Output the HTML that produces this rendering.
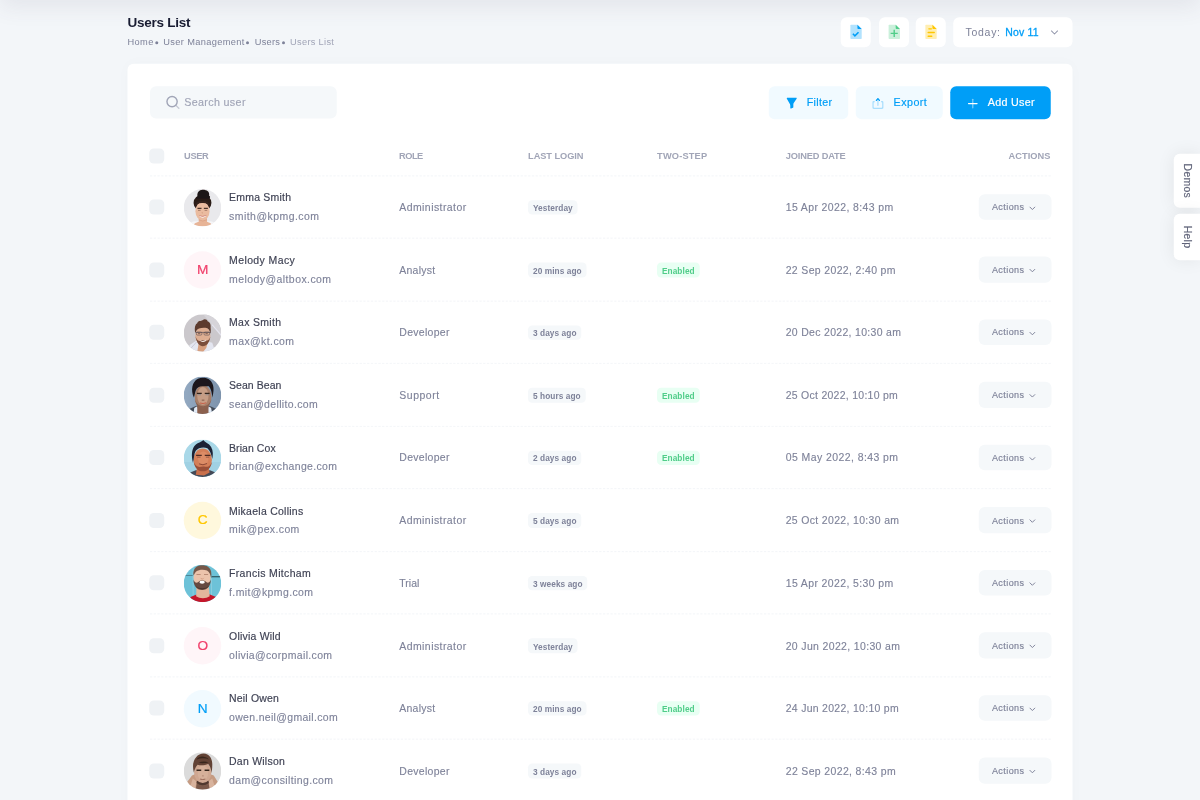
<!DOCTYPE html>
<html lang="en">
<head>
<meta charset="utf-8">
<title>Users List</title>
<style>
*{box-sizing:border-box;margin:0;padding:0}
html,body{width:1200px;height:800px;overflow:hidden;background:#f3f6f9}
body{font-family:"Liberation Sans",sans-serif;color:#181c32}
#z{transform:scale(.75);transform-origin:0 0;position:relative;width:1600px;height:1067px;overflow:hidden;background:#f3f6f9;font-size:13px}
.hshadow{position:absolute;left:0;top:-60px;width:1600px;height:60px;background:#fff;box-shadow:0 10px 30px 0 rgba(82,63,105,.09)}
/* toolbar */
.title{position:absolute;left:170px;top:20.4px;font-size:18px;line-height:21px;font-weight:700;color:#181c32;letter-spacing:-.33px;white-space:nowrap}
.bc{position:absolute;left:170px;top:46.7px;font-size:12.35px;line-height:18.5px;color:#7e8299;white-space:nowrap}
.bc span{position:absolute;top:0}
.bc span.m{color:#a1a5b7}
.bc i{position:absolute;top:8.1px;width:4px;height:4px;margin-left:-.2px;border-radius:50%;background:#7e8299}
.tbtn{position:absolute;top:22.7px;width:40px;height:40px;border-radius:8px;background:#fff}
.tbtn svg{position:absolute;left:9.2px;top:7.9px;width:22.75px;height:22.75px}
.date{position:absolute;left:1271.3px;top:22.7px;width:158.7px;height:40px;border-radius:8px;background:#fff;font-size:13.975px;line-height:40.8px;color:#7e8299;white-space:nowrap}
.date b{font-weight:400;color:#009ef7}
/* card */
.card{position:absolute;left:169.5px;top:85.33px;width:1260.9px;height:1100px;background:#fff;border-radius:8.125px;box-shadow:0 0 20px 0 rgba(76,87,125,.02)}
.search{position:absolute;left:30.5px;top:29.3px;width:249.3px;height:43.6px;border-radius:8px;background:#f5f8fa;font-size:14.3px;line-height:43.6px;color:#a1a5b7;padding-left:45.5px;letter-spacing:.47px;-webkit-text-stroke:.2px #a1a5b7}
.search svg{position:absolute;left:18.5px;top:10.4px;width:22.75px;height:22.75px}
.btn{position:absolute;top:29.77px;height:43.6px;border-radius:8px;font-size:14.3px;line-height:43.6px;white-space:nowrap;-webkit-text-stroke:.25px}
.btn.lp{background:#f1faff;color:#009ef7}
.btn.p{background:#009ef7;color:#fff}
.btn svg{position:absolute;top:13px;width:19.5px;height:19.5px}
.btn span{position:absolute;top:0}
/* table */
.tbl{position:absolute;left:30.6px;top:95.27px;width:1201.3px}
.tr{position:relative;height:83.5px;border-bottom:1px dashed #eff2f5}
.tr.h{height:54.4px;font-size:12.35px;font-weight:700;color:#a1a5b7;text-transform:uppercase}
.tr.h span{position:absolute;top:18.8px;line-height:18.5px;white-space:nowrap;letter-spacing:-.1px}
.cb{position:absolute;left:-.9px;width:20.15px;height:20.15px;border-radius:6px;background:#eff2f5}
.tr.h .cb{top:17.3px}
.tr .cb{top:31.2px}
.av{position:absolute;left:45.3px;top:16.6px;width:50px;height:50px;border-radius:50%;overflow:hidden}
.av svg{display:block;width:50px;height:50px}
.av.l{font-size:18.2px;line-height:48.6px;text-align:center;-webkit-text-stroke:.3px}
.av.d{background:#fff5f8;color:#f1416c}
.av.w{background:#fff8dd;color:#ffc700}
.av.pr{background:#f1faff;color:#009ef7}
.nm{position:absolute;left:105.3px;top:18.5px;font-size:13.975px;line-height:21px;color:#3f4254;white-space:nowrap;letter-spacing:.27px;-webkit-text-stroke:.22px #3f4254}
.em{position:absolute;left:105.3px;top:43.1px;font-size:13.975px;line-height:21px;color:#7e8299;white-space:nowrap;letter-spacing:.57px;-webkit-text-stroke:.16px #7e8299}
.ro{position:absolute;left:332.3px;top:31.2px;font-size:13.975px;line-height:21px;color:#7e8299;white-space:nowrap;letter-spacing:.65px;-webkit-text-stroke:.16px #7e8299}
.jd{position:absolute;left:847.5px;top:31.2px;font-size:13.975px;line-height:21px;color:#7e8299;white-space:nowrap;letter-spacing:.52px;-webkit-text-stroke:.16px #7e8299}
.bd{position:absolute;top:32px;height:19.3px;border-radius:5.5px;font-size:11.05px;font-weight:700;line-height:19.3px;padding:1.2px 6.5px 0;white-space:nowrap;letter-spacing:.1px}
.bd.ll{left:504px;background:#f5f8fa;color:#7e8299}
.bd.en{left:676px;background:#e8fff3;color:#50cd89}
.ac{position:absolute;left:1104.85px;top:23.95px;width:96.9px;height:34.3px;border-radius:8px;background:#f5f8fa;color:#7e8299;font-size:12.025px;line-height:34.3px;padding:.3px 0 0 17.6px;white-space:nowrap;letter-spacing:.58px;-webkit-text-stroke:.2px #7e8299;overflow:hidden}
.ac svg{position:absolute;left:64.6px;top:12px;width:13px;height:13px}
/* side */
.side{position:absolute;left:1565.3px;width:34.7px;background:#fff;border-radius:8px 0 0 8px;box-shadow:0 0 24px rgba(0,0,0,.075)}
.side span{position:absolute;left:50%;top:50%;transform:translate(-50%,-50%) rotate(90deg);font-size:13.975px;color:#5e6278;white-space:nowrap;letter-spacing:.3px;-webkit-text-stroke:.2px #5e6278}
</style>
</head>
<body>
<div id="z">
<svg width="0" height="0" style="position:absolute"><defs><filter id="bl" x="-10%" y="-10%" width="120%" height="120%"><feGaussianBlur stdDeviation=".55"/></filter></defs></svg>
<div class="hshadow"></div>

<div class="title">Users List</div>
<div class="bc"><span style="left:0;letter-spacing:.5px">Home</span><i style="left:36.7px"></i><span style="left:47.8px;letter-spacing:.45px">User Management</span><i style="left:158.5px"></i><span style="left:169.7px;letter-spacing:.35px">Users</span><i style="left:206px"></i><span class="m" style="left:216.8px;letter-spacing:.39px">Users List</span></div>

<div class="tbtn" style="left:1121px"><svg viewBox="0 0 24 24"><path opacity=".3" d="M19 22H5C4.4 22 4 21.6 4 21V3C4 2.4 4.4 2 5 2H14L20 8V21C20 21.6 19.6 22 19 22Z" fill="#009ef7"/><path d="M15 8H20L14 2V7C14 7.6 14.4 8 15 8Z" fill="#009ef7"/><path d="M10.400 19.200L6.800 15.600 8.400 14 10.400 16 14.700 11.900 16.300 13.500Z" fill="#009ef7"/></svg></div>
<div class="tbtn" style="left:1171.5px"><svg viewBox="0 0 24 24"><path opacity=".3" d="M19 22H5C4.4 22 4 21.6 4 21V3C4 2.4 4.4 2 5 2H14L20 8V21C20 21.6 19.6 22 19 22Z" fill="#50cd89"/><path d="M15 8H20L14 2V7C14 7.6 14.4 8 15 8Z" fill="#50cd89"/><path d="M10.900 9.200h2v4h4v2h-4v4h-2v-4h-4v-2h4Z" fill="#50cd89"/></svg></div>
<div class="tbtn" style="left:1221.2px"><svg viewBox="0 0 24 24"><path opacity=".3" d="M19 22H5C4.4 22 4 21.6 4 21V3C4 2.4 4.4 2 5 2H14L20 8V21C20 21.6 19.6 22 19 22Z" fill="#ffc700"/><path d="M15 8H20L14 2V7C14 7.6 14.4 8 15 8Z" fill="#ffc700"/><rect x="8" y="6.900" width="5.400" height="2" rx="1" fill="#ffc700"/><rect x="7" y="12" width="10.500" height="2" rx="1" fill="#ffc700"/><rect x="7" y="17.200" width="7" height="2" rx="1" fill="#ffc700"/></svg></div>
<div class="date"><span style="position:absolute;left:16px;letter-spacing:.98px">Today:</span><b style="position:absolute;left:69px;letter-spacing:.25px;-webkit-text-stroke:.4px #009ef7">Nov 11</b><svg style="position:absolute;left:127.3px;top:13px;width:14px;height:14px" viewBox="0 0 24 24"><path d="M5 9l7 7 7-7" fill="none" stroke="#9296ab" stroke-width="2.3" stroke-linecap="round" stroke-linejoin="round"/></svg></div>

<div class="card">
  <div class="search"><svg viewBox="0 0 24 24"><circle cx="11" cy="11" r="7.200" fill="none" stroke="#a1a5b7" stroke-width="2"/><path d="M16.500 16.500L20.500 20.500" stroke="#a1a5b7" stroke-width="1.900" stroke-linecap="round" opacity=".55"/></svg>Search user</div>

  <div class="btn lp" style="left:855.8px;width:105.3px"><svg style="left:20.5px" viewBox="0 0 24 24"><path d="M19.0759 3H4.72777C3.95892 3 3.47768 3.83148 3.86067 4.49814L8.56967 12.6949C9.17923 13.7559 9.5 14.9582 9.5 16.1819V19.5072C9.5 20.2189 10.2223 20.7028 10.8805 20.432L13.8805 19.1977C14.2553 19.0435 14.5 18.6783 14.5 18.273V13.8372C14.5 12.8089 14.8171 11.8056 15.408 10.964L19.8943 4.57465C20.3596 3.912 19.8856 3 19.0759 3Z" fill="#009ef7"/></svg><span style="left:50.4px;letter-spacing:.4px">Filter</span></div>
  <div class="btn lp" style="left:971.1px;width:116px"><svg style="left:20.5px" viewBox="0 0 24 24"><rect opacity=".3" x="10.75" y="4.25" width="2" height="12" rx="1" fill="#009ef7"/><path d="M12.0573 6.11875L13.5203 7.87435C13.9121 8.34457 14.6232 8.37683 15.056 7.94401C15.4457 7.5543 15.4641 6.92836 15.0979 6.51643L12.4974 3.59084C12.0996 3.14332 11.4004 3.14332 11.0026 3.59084L8.40206 6.51643C8.0359 6.92836 8.0543 7.5543 8.44401 7.94401C8.87683 8.37683 9.58785 8.34458 9.9797 7.87435L11.4427 6.11875C11.6026 5.92684 11.8974 5.92684 12.0573 6.11875Z" fill="#009ef7"/><path opacity=".3" d="M18.75 8.25H17.75C17.1977 8.25 16.75 8.69772 16.75 9.25C16.75 9.80228 17.1977 10.25 17.75 10.25C18.3023 10.25 18.75 10.6977 18.75 11.25V18.25C18.75 18.8023 18.3023 19.25 17.75 19.25H5.75C5.19772 19.25 4.75 18.8023 4.75 18.25V11.25C4.75 10.6977 5.19771 10.25 5.75 10.25C6.30229 10.25 6.75 9.80228 6.75 9.25C6.75 8.69772 6.30229 8.25 5.75 8.25H4.75C3.64543 8.25 2.75 9.14543 2.75 10.25V19.25C2.75 20.3546 3.64543 21.25 4.75 21.25H18.75C19.8546 21.25 20.75 20.3546 20.75 19.25V10.25C20.75 9.14543 19.8546 8.25 18.75 8.25Z" fill="#009ef7"/></svg><span style="left:50.9px;letter-spacing:.6px">Export</span></div>
  <div class="btn p" style="left:1097.2px;width:134.7px"><svg style="left:20.5px" viewBox="0 0 24 24"><rect opacity=".5" x="11.364" y="4.364" width="2" height="16" rx="1" fill="#fff"/><rect x="4.364" y="11.364" width="16" height="2" rx="1" fill="#fff"/></svg><span style="left:50.3px;letter-spacing:.4px">Add User</span></div>

  <div class="tbl">
    <div class="tr h"><div class="cb"></div><span style="left:45.4px;letter-spacing:-.54px">User</span><span style="left:332px;letter-spacing:-.7px">Role</span><span style="left:504px">Last login</span><span style="left:676px;letter-spacing:.23px">Two-step</span><span style="left:847.7px;letter-spacing:-.23px">Joined Date</span><span style="right:.7px;letter-spacing:.06px">Actions</span></div>
    <div class="tr"><div class="cb"></div><div class="av"><svg viewBox="0 0 50 50"><rect width="50" height="50" fill="#e9e9ec"/>
<g filter="url(#bl)">
<path d="M0 50L5 46 14 43 36 43 45 46 50 50Z" fill="#f6f6f8"/>
<ellipse cx="25" cy="18.500" rx="11.900" ry="11" fill="#2a1c19"/>
<path d="M18.500 10.500C17 5 20.500 1.200 25 1 30.500 .8 35 3.500 33.800 9 36.500 10 34.500 13.500 33 13L18.500 13C16 13.500 15.500 11 18.500 10.500Z" fill="#1f1514"/>
<path d="M12 50C12.500 46 17 44.500 20 43.500L20 37 31 37 31 43.500C34 44.500 38 46 38.500 50Z" fill="#e7b497"/>
<ellipse cx="25" cy="29.500" rx="9.400" ry="12.600" fill="#eabb9f"/>
<path d="M15.300 25C15 18 19 15.500 25 15.800 31 15.500 35 18 34.800 25.500 33.500 21 30.500 18.500 25 18.800 19.500 18.500 16.500 21 15.300 25Z" fill="#35231f"/>
<path d="M18.300 25.800h5.400M26.800 25.800h5.400" stroke="#4e342c" stroke-width="1.500"/>
<path d="M19 28.500h3.500M27.800 28.500h3.500" stroke="#7a5547" stroke-width=".8"/>
<path d="M24 31.500L25.500 32" stroke="#c78f76" stroke-width="1"/>
<path d="M21 36.300Q25.200 39.300 29.500 36" stroke="#fff" stroke-width="1.300" fill="none"/>
<path d="M20.500 35.600Q25.200 37.600 30 35.300" stroke="#c2665f" stroke-width=".8" fill="none"/>
<path d="M20 41Q25 44.500 31 41" stroke="#d9a084" stroke-width="1" fill="none"/>
</g></svg></div><div class="nm" style="letter-spacing:0.29px">Emma Smith</div><div class="em" style="letter-spacing:0.62px">smith@kpmg.com</div><div class="ro" style="letter-spacing:0.57px">Administrator</div><div class="bd ll">Yesterday</div><div class="jd" style="letter-spacing:0.52px">15 Apr 2022, 8:43 pm</div><div class="ac">Actions<svg viewBox="0 0 24 24"><path d="M6 9.5l6 6 6-6" fill="none" stroke="#7e8299" stroke-width="2.4" stroke-linecap="round" stroke-linejoin="round"/></svg></div></div>
    <div class="tr"><div class="cb"></div><div class="av l d">M</div><div class="nm" style="letter-spacing:0.54px">Melody Macy</div><div class="em" style="letter-spacing:0.58px">melody@altbox.com</div><div class="ro" style="letter-spacing:0.34px">Analyst</div><div class="bd ll">20 mins ago</div><div class="bd en">Enabled</div><div class="jd" style="letter-spacing:0.47px">22 Sep 2022, 2:40 pm</div><div class="ac">Actions<svg viewBox="0 0 24 24"><path d="M6 9.5l6 6 6-6" fill="none" stroke="#7e8299" stroke-width="2.4" stroke-linecap="round" stroke-linejoin="round"/></svg></div></div>
    <div class="tr"><div class="cb"></div><div class="av"><svg viewBox="0 0 50 50"><rect width="50" height="50" fill="#cbc8cc"/>
<g filter="url(#bl)">
<path d="M26 0L50 0 50 30Z" fill="#d6d4d9"/>
<path d="M37 14L50 29 50 27 38.500 13.500Z" fill="#e6e6f2"/>
<path d="M5 50L8 41 17 35 30 36 38 38 42 50Z" fill="#e4e6f0"/>
<path d="M9 46L17 37" stroke="#b9b6c4" stroke-width=".8"/>
<path d="M18 50L20 38 32 38 30 45 26 50Z" fill="#d7a080"/>
<ellipse cx="25.500" cy="28.500" rx="10" ry="12.800" fill="#deae92"/>
<path d="M15.300 25C14 19 15 13.500 18 12 19 8 23 9.500 25 8 28 5.500 31 7 32 9.500 35 10 36.500 14 35.800 18 36.300 21 36 24 35.500 26 34.500 21 33 18.500 29 18 23 17.500 18 19 16.800 22Z" fill="#5b3a2d"/>
<path d="M15.600 29C16.500 35 19 42 25 42.500 31 42.500 34 38 35.500 30 33.500 35.500 30.500 35.500 28.500 35 25.500 34 22.500 35.500 20.500 35.500 18 35 16.500 32.500 15.600 29Z" fill="#7a4d3b"/>
<path d="M16 24.200h19.500" stroke="#3b3640" stroke-width=".8"/>
<rect x="16.800" y="23.800" width="7.400" height="4" rx="1.500" fill="none" stroke="#4a444f" stroke-width=".7"/>
<rect x="27" y="23.800" width="7.400" height="4" rx="1.500" fill="none" stroke="#4a444f" stroke-width=".7"/>
<path d="M19 25.800h3M29 25.800h3" stroke="#5a3d33" stroke-width=".9"/>
<path d="M21.500 34.200Q25.500 37 30 33.800L29 36Q25.500 37.800 22.500 36Z" fill="#f6ebe6"/>
</g></svg></div><div class="nm" style="letter-spacing:0.41px">Max Smith</div><div class="em" style="letter-spacing:0.55px">max@kt.com</div><div class="ro" style="letter-spacing:0.40px">Developer</div><div class="bd ll">3 days ago</div><div class="jd" style="letter-spacing:0.42px">20 Dec 2022, 10:30 am</div><div class="ac">Actions<svg viewBox="0 0 24 24"><path d="M6 9.5l6 6 6-6" fill="none" stroke="#7e8299" stroke-width="2.4" stroke-linecap="round" stroke-linejoin="round"/></svg></div></div>
    <div class="tr"><div class="cb"></div><div class="av"><svg viewBox="0 0 50 50"><defs><linearGradient id="sg" x1="0" x2="1"><stop offset="0" stop-color="#93a9c1"/><stop offset="1" stop-color="#7d93ac"/></linearGradient></defs><rect width="50" height="50" fill="url(#sg)"/>
<g filter="url(#bl)">
<path d="M4 50L8 43 17 39 34 39 43 43 47 50Z" fill="#434c58"/>
<path d="M13 50L14 42 18 39.500 21 50ZM38 50L36.500 42 33 39.500 30 50Z" fill="#e3ebf6"/>
<path d="M18 50L18 38 33 38 33 50Z" fill="#8b614e"/>
<ellipse cx="25.800" cy="27" rx="11.200" ry="15.200" fill="#a87f69"/>
<ellipse cx="25.500" cy="26" rx="7.500" ry="12" fill="#c69d85"/>
<path d="M14.600 30C16 38 20 43.200 25.800 43.200 31.500 43.200 35.500 38 37 30 34.500 37 30.500 39.500 25.800 39.500 21 39.500 17 37 14.600 30Z" fill="#8c624f"/>
<path d="M13.500 28C9 18 11 7 19 3 25 0 35 1.500 38 9 41 15 39.500 23 38 28 37.500 21 36.500 17 33.500 13 28 13.500 21 12 17.500 16 15 19.500 15 24 13.500 28Z" fill="#1a181e"/>
<path d="M17.500 22.500h6.500M28 22.500h6.500" stroke="#35261f" stroke-width="1.600"/>
<path d="M18.500 24.300h4.500M29 24.300h4.500" stroke="#6a7f96" stroke-width=".8"/>
<path d="M24 31.500h3.500" stroke="#7d5443" stroke-width="1.200"/>
<path d="M21.500 35.300Q25.800 37 30 35" stroke="#c5533d" stroke-width="1.100" fill="none"/>
</g></svg></div><div class="nm" style="letter-spacing:0.08px">Sean Bean</div><div class="em" style="letter-spacing:0.46px">sean@dellito.com</div><div class="ro" style="letter-spacing:0.69px">Support</div><div class="bd ll">5 hours ago</div><div class="bd en">Enabled</div><div class="jd" style="letter-spacing:0.37px">25 Oct 2022, 10:10 pm</div><div class="ac">Actions<svg viewBox="0 0 24 24"><path d="M6 9.5l6 6 6-6" fill="none" stroke="#7e8299" stroke-width="2.4" stroke-linecap="round" stroke-linejoin="round"/></svg></div></div>
    <div class="tr"><div class="cb"></div><div class="av"><svg viewBox="0 0 50 50"><rect width="50" height="50" fill="#a9d8e8"/>
<rect y="30" width="50" height="20" fill="#a0d1e3"/>
<g filter="url(#bl)">
<path d="M5 50L7 44.500 16 41 35 41 44 44.500 46 50Z" fill="#454a56"/>
<path d="M16 47L18 36 33 36 34.500 44 27 48Z" fill="#c96f4c"/>
<ellipse cx="25.300" cy="27" rx="12.300" ry="15" fill="#d47f59"/>
<ellipse cx="26" cy="25" rx="7" ry="9" fill="#dc8c66"/>
<path d="M12.300 31C10 22 10.500 14 14 9 18 4 22.500 4.500 26 .8 28 4 33.500 5 36.500 10 39.500 15 39 21 38 26 37 19.500 35 14.500 31.500 11.500 26 9.500 19 11 16 15 13.500 19 13.800 26 12.300 31Z" fill="#1b2236"/>
<path d="M13.200 29.500C14.500 37.500 19 42.300 25.300 42.300 32 42.300 36.500 37.500 37.600 29.500 35 36 31.500 37 28.500 36.300 25.500 35.300 23 36.500 21 36.500 17.500 36 15 34 13.200 29.500Z" fill="#9a4f38"/>
<path d="M16.500 21.300h7.500M28 21.300h7.500" stroke="#4e2a20" stroke-width="1.700"/>
<path d="M18 23.500h4.500M29.500 23.500h4.500" stroke="#7a3d2c" stroke-width=".9"/>
<path d="M20.500 32.500Q25.500 35.200 31 32" stroke="#7a382a" stroke-width="1.100" fill="none"/>
</g></svg></div><div class="nm" style="letter-spacing:0.10px">Brian Cox</div><div class="em" style="letter-spacing:0.46px">brian@exchange.com</div><div class="ro" style="letter-spacing:0.40px">Developer</div><div class="bd ll">2 days ago</div><div class="bd en">Enabled</div><div class="jd" style="letter-spacing:0.57px">05 May 2022, 8:43 pm</div><div class="ac">Actions<svg viewBox="0 0 24 24"><path d="M6 9.5l6 6 6-6" fill="none" stroke="#7e8299" stroke-width="2.4" stroke-linecap="round" stroke-linejoin="round"/></svg></div></div>
    <div class="tr"><div class="cb"></div><div class="av l w">C</div><div class="nm" style="letter-spacing:0.35px">Mikaela Collins</div><div class="em" style="letter-spacing:0.50px">mik@pex.com</div><div class="ro" style="letter-spacing:0.57px">Administrator</div><div class="bd ll">5 days ago</div><div class="jd" style="letter-spacing:0.45px">25 Oct 2022, 10:30 am</div><div class="ac">Actions<svg viewBox="0 0 24 24"><path d="M6 9.5l6 6 6-6" fill="none" stroke="#7e8299" stroke-width="2.4" stroke-linecap="round" stroke-linejoin="round"/></svg></div></div>
    <div class="tr"><div class="cb"></div><div class="av"><svg viewBox="0 0 50 50"><rect width="50" height="50" fill="#6dc2d8"/>
<g filter="url(#bl)">
<path d="M2 14.300h10.500" stroke="#3d6775" stroke-width=".9"/><path d="M37 16h12" stroke="#17222b" stroke-width="1.100"/>
<path d="M12.500 0v50M37 18v30" stroke="#9fd3e0" stroke-width=".8"/>
<path d="M7 50L9 43 17 39.500 35 39.500 43 43 45 50Z" fill="#c5172b"/>
<path d="M16.500 42L17 30 33.500 30 34.500 42C30 45.500 21 45.500 16.500 42Z" fill="#e3b69c"/>
<ellipse cx="24.500" cy="17" rx="11.500" ry="14" fill="#ebc3ab"/>
<path d="M13 14C12 8 15 2 21 1 28 -.5 35 2 36.500 9 37 12 37 15 36.500 18 36 13 34 9 31 7.500 26 6 20 6.500 16.500 9 14.500 11 13.500 14 13 14Z" fill="#76584a"/>
<path d="M13 20C13 28 17 33.500 24.500 33.500 32 33.500 36 28 36 20 34.500 24 32 25 30 23 27 20.500 22 20.500 19.500 23 17 25 14.500 24 13 20Z" fill="#66493f"/><path d="M16 28C19 32.500 30 32.500 33.500 28 31 34 18 34 16 28Z" fill="#4a342d"/>
<ellipse cx="24.500" cy="23.300" rx="3.600" ry="1.900" fill="#fff"/><path d="M22.500 17.500L24.500 19.500 26.500 17.500" stroke="#c98f74" stroke-width="1" fill="none"/>
<path d="M17 13h5.500M27 13h5.500" stroke="#a97a64" stroke-width="1"/>
</g></svg></div><div class="nm" style="letter-spacing:0.46px">Francis Mitcham</div><div class="em" style="letter-spacing:0.54px">f.mit@kpmg.com</div><div class="ro" style="letter-spacing:0.01px">Trial</div><div class="bd ll">3 weeks ago</div><div class="jd" style="letter-spacing:0.52px">15 Apr 2022, 5:30 pm</div><div class="ac">Actions<svg viewBox="0 0 24 24"><path d="M6 9.5l6 6 6-6" fill="none" stroke="#7e8299" stroke-width="2.4" stroke-linecap="round" stroke-linejoin="round"/></svg></div></div>
    <div class="tr"><div class="cb"></div><div class="av l d">O</div><div class="nm" style="letter-spacing:0.29px">Olivia Wild</div><div class="em" style="letter-spacing:0.46px">olivia@corpmail.com</div><div class="ro" style="letter-spacing:0.57px">Administrator</div><div class="bd ll">Yesterday</div><div class="jd" style="letter-spacing:0.47px">20 Jun 2022, 10:30 am</div><div class="ac">Actions<svg viewBox="0 0 24 24"><path d="M6 9.5l6 6 6-6" fill="none" stroke="#7e8299" stroke-width="2.4" stroke-linecap="round" stroke-linejoin="round"/></svg></div></div>
    <div class="tr"><div class="cb"></div><div class="av l pr">N</div><div class="nm" style="letter-spacing:0.26px">Neil Owen</div><div class="em" style="letter-spacing:0.44px">owen.neil@gmail.com</div><div class="ro" style="letter-spacing:0.34px">Analyst</div><div class="bd ll">20 mins ago</div><div class="bd en">Enabled</div><div class="jd" style="letter-spacing:0.39px">24 Jun 2022, 10:10 pm</div><div class="ac">Actions<svg viewBox="0 0 24 24"><path d="M6 9.5l6 6 6-6" fill="none" stroke="#7e8299" stroke-width="2.4" stroke-linecap="round" stroke-linejoin="round"/></svg></div></div>
    <div class="tr"><div class="cb"></div><div class="av"><svg viewBox="0 0 50 50"><rect width="50" height="50" fill="#dbdbdb"/>
<g filter="url(#bl)">
<path d="M3 50L5 39 11 31 18 28 32 28 40 31 45 39 47 50Z" fill="#c59b82"/>
<path d="M8 48L12 35 17 39 15 50ZM42 48L38 35 33 39 35 50Z" fill="#d8b39d"/>
<path d="M16 50L17.500 40 33 40 34.500 50Z" fill="#7a5848"/>
<path d="M17 41Q25 47 33.500 41L33 38 17.500 38Z" fill="#4f372e"/>
<ellipse cx="25.300" cy="27" rx="11.500" ry="14" fill="#cfa791"/>
<ellipse cx="25.500" cy="27.500" rx="7" ry="10" fill="#d6b09a"/>
<path d="M13.500 27C11.500 20 12 11 16.500 6.500 20 2 27 .5 31.500 3 36.500 5.500 38.500 12 38 18 38 22 37.500 25 37 27.500 36.500 22 35 18.500 32.500 15.500 28.500 17.500 22 18 18.500 16.500 15.500 19.500 14.500 23.500 13.500 27Z" fill="#624234"/>
<path d="M17 9.500C20 5 28 4 33.500 9.500 29 7.500 23 7.500 17 9.500ZM20 14C24 12 29 12 33 13.500 29 14.500 24 15 20 14Z" fill="#38261f"/>
<path d="M17 24h6.300M27.800 24h6.300" stroke="#35251f" stroke-width="1.800"/>
<path d="M24.300 31.500h2.500" stroke="#b08570" stroke-width="1.200"/>
<path d="M21.800 35.800Q25.300 37 28.800 35.800" stroke="#8c5847" stroke-width="1.100" fill="none"/>
</g></svg></div><div class="nm" style="letter-spacing:0.33px">Dan Wilson</div><div class="em" style="letter-spacing:0.52px">dam@consilting.com</div><div class="ro" style="letter-spacing:0.40px">Developer</div><div class="bd ll">3 days ago</div><div class="jd" style="letter-spacing:0.48px">22 Sep 2022, 8:43 pm</div><div class="ac">Actions<svg viewBox="0 0 24 24"><path d="M6 9.5l6 6 6-6" fill="none" stroke="#7e8299" stroke-width="2.4" stroke-linecap="round" stroke-linejoin="round"/></svg></div></div>
    <div class="tr"><div class="cb"></div><div class="av l d">E</div><div class="nm">Emma Bold</div><div class="em">emma@intenso.com</div><div class="ro" style="letter-spacing:0.57px">Administrator</div><div class="bd ll">5 hours ago</div><div class="bd en">Enabled</div><div class="jd">25 Jul 2022, 10:10 pm</div><div class="ac">Actions<svg viewBox="0 0 24 24"><path d="M6 9.5l6 6 6-6" fill="none" stroke="#7e8299" stroke-width="2.4" stroke-linecap="round" stroke-linejoin="round"/></svg></div></div>
  </div>
</div>

<div class="side" style="top:205.3px;height:71.5px"><span>Demos</span></div>
<div class="side" style="top:285px;height:62.4px"><span>Help</span></div>
</div>
</body>
</html>
